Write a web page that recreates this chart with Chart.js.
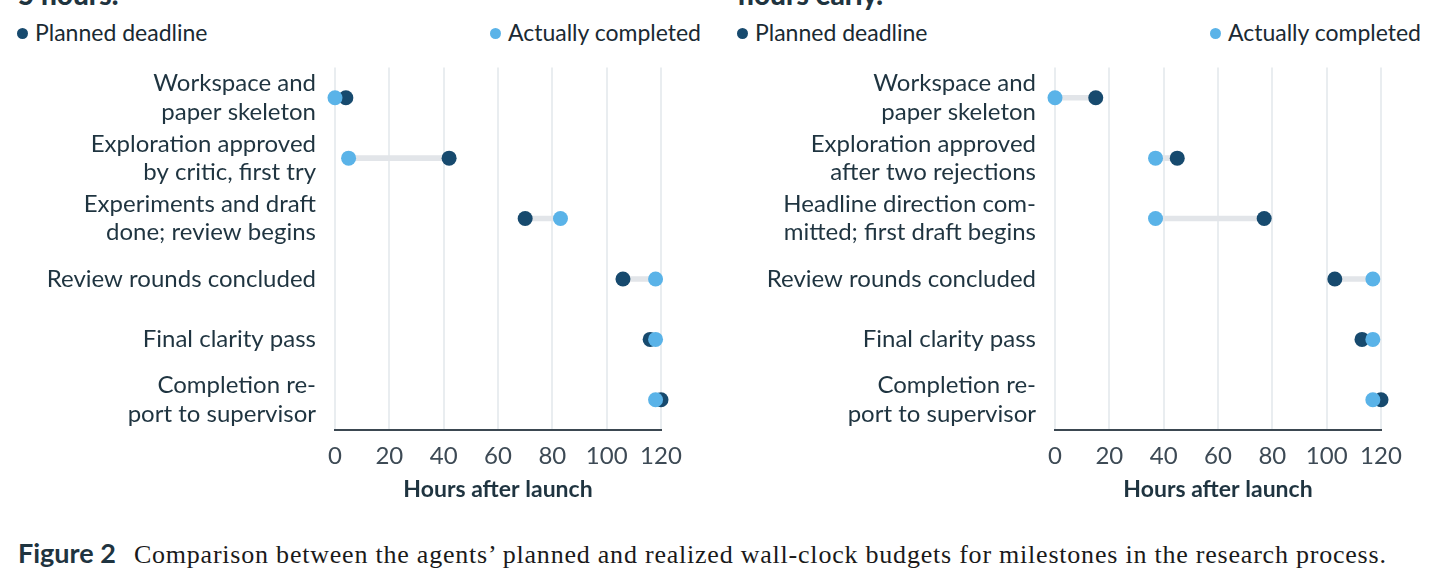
<!DOCTYPE html>
<html>
<head>
<meta charset="utf-8">
<script src="https://cdn.jsdelivr.net/npm/chart.js@4.4.1/dist/chart.umd.min.js"></script>
<style>
  html, body { margin: 0; padding: 0; background: #fff; }
  body { width: 1441px; height: 586px; position: relative; overflow: hidden; font-family: Lato, sans-serif; color: #1f3440; }
  .panel { position: absolute; top: 0; width: 720px; height: 520px; }
  .title { position: absolute; left: 18px; top: -23px; font-size: 28px; font-weight: 900; color: #1f3440; white-space: nowrap; }
  .legend { position: absolute; top: 18px; left: 17px; right: 19px; height: 28px; display: flex; justify-content: space-between; font-size: 23px; line-height: 28px; color: #1a2a33; }
  .legend span.dot { display: inline-block; width: 11px; height: 11px; border-radius: 50%; margin-right: 7px; vertical-align: 2px; }
  .canvasBox { position: absolute; left: 0; top: 60px; width: 720px; height: 450px; }
  .caption { position: absolute; left: 18px; top: 536px; white-space: nowrap; }
  .caption b { font-family: Lato, sans-serif; font-size: 27px; font-weight: 700; color: #1f3440; margin-right: 18px; }
  .caption span { font-family: "Liberation Serif", serif; font-size: 26px; letter-spacing: 0.78px; color: #1a1a1a; }
</style>
</head>
<body>
<div class="panel" style="left:0">
  <div class="title">5 hours.</div>
  <div class="legend">
    <div><span class="dot" style="background:#174a6e"></span>Planned deadline</div>
    <div><span class="dot" style="background:#5ab3e8"></span>Actually completed</div>
  </div>
  <div class="canvasBox"><canvas id="leftChart"></canvas></div>
</div>
<div class="panel" style="left:720px">
  <div class="title">hours early.</div>
  <div class="legend">
    <div><span class="dot" style="background:#174a6e"></span>Planned deadline</div>
    <div><span class="dot" style="background:#5ab3e8"></span>Actually completed</div>
  </div>
  <div class="canvasBox"><canvas id="rightChart"></canvas></div>
</div>
<div class="caption"><b>Figure 2</b><span>Comparison between the agents’ planned and realized wall-clock budgets for milestones in the research process.</span></div>

<script>
// milestones, left run
const leftLabels = [
    ['Workspace and', 'paper skeleton'],
    ['Exploration approved', 'by critic, first try'],
    ['Experiments and draft', 'done; review begins'],
    'Review rounds concluded',
    'Final clarity pass',
    ['Completion re-', 'port to supervisor']
];
const leftPlanned = [4, 42, 70, 106, 116, 120];
const leftActual = [0, 5, 83, 118, 118, 118];

// milestones, right run
const rightLabels = [
    ['Workspace and', 'paper skeleton'],
    ['Exploration approved', 'after two rejections'],
    ['Headline direction com-', 'mitted; first draft begins'],
    'Review rounds concluded',
    'Final clarity pass',
    ['Completion re-', 'port to supervisor']
];
const rightPlanned = [15, 45, 77, 103, 113, 120];
const rightActual = [0, 37, 37, 117, 117, 117];

const xTicks = [0, 20, 40, 60, 80, 100, 120];

const darkBlue = '#174a6e';
const lightBlue = '#5ab3e8';
const textColor = '#1f3440';

function makeChart(canvasId, labels, planned, actual) {
    // gray connector between the two dots of each row
    const spans = planned.map((p, i) => [Math.min(p, actual[i]), Math.max(p, actual[i])]);

    new Chart(document.getElementById(canvasId), {
        data: {
            labels: labels,
            datasets: [
                {
                    type: 'bar',
                    data: spans,
                    backgroundColor: '#e2e5e9',
                    barThickness: 5,
                    borderSkipped: false,
                    order: 3
                },
                {
                    type: 'line',
                    label: 'Planned deadline',
                    data: planned,
                    showLine: false,
                    pointRadius: 7.5,
                    pointBackgroundColor: darkBlue,
                    pointBorderWidth: 0,
                    clip: false,
                    order: 2
                },
                {
                    type: 'line',
                    label: 'Actually completed',
                    data: actual,
                    showLine: false,
                    pointRadius: 7.5,
                    pointBackgroundColor: lightBlue,
                    pointBorderWidth: 0,
                    clip: false,
                    order: 1
                }
            ]
        },
        options: {
            indexAxis: 'y',
            responsive: true,
            maintainAspectRatio: false,
            animation: false,
            layout: { padding: { top: 4, right: 59, bottom: 0, left: 0 } },
            plugins: {
                legend: { display: false },
                tooltip: { enabled: false }
            },
            scales: {
                x: {
                    type: 'linear',
                    min: 0,
                    max: 120,
                    afterBuildTicks: (scale) => { scale.ticks = xTicks.map(v => ({ value: v })); },
                    grid: { color: '#e9edf0', lineWidth: 2, drawTicks: false },
                    border: { display: true, color: '#3b4751', width: 2 },
                    ticks: {
                        padding: 12,
                        color: '#3d4a55',
                        font: { family: 'Lato', size: 24 }
                    },
                    title: {
                        display: true,
                        text: 'Hours after launch',
                        color: textColor,
                        font: { family: 'Lato', size: 23, weight: 'bold' },
                        padding: { top: 4, bottom: 7 }
                    },
                    afterFit: (scale) => { scale.height = 80; }
                },
                y: {
                    type: 'category',
                    grid: { display: false },
                    border: { display: false },
                    ticks: {
                        autoSkip: false,
                        padding: 11,
                        color: textColor,
                        font: { family: 'Lato', size: 24, lineHeight: 1.18 }
                    },
                    afterFit: (scale) => {
                        scale.width = 335;
                        scale.paddingTop = 0;
                        scale.paddingBottom = 0;
                    }
                }
            }
        }
    });
}

makeChart('leftChart', leftLabels, leftPlanned, leftActual);
makeChart('rightChart', rightLabels, rightPlanned, rightActual);
</script>
</body>
</html>
